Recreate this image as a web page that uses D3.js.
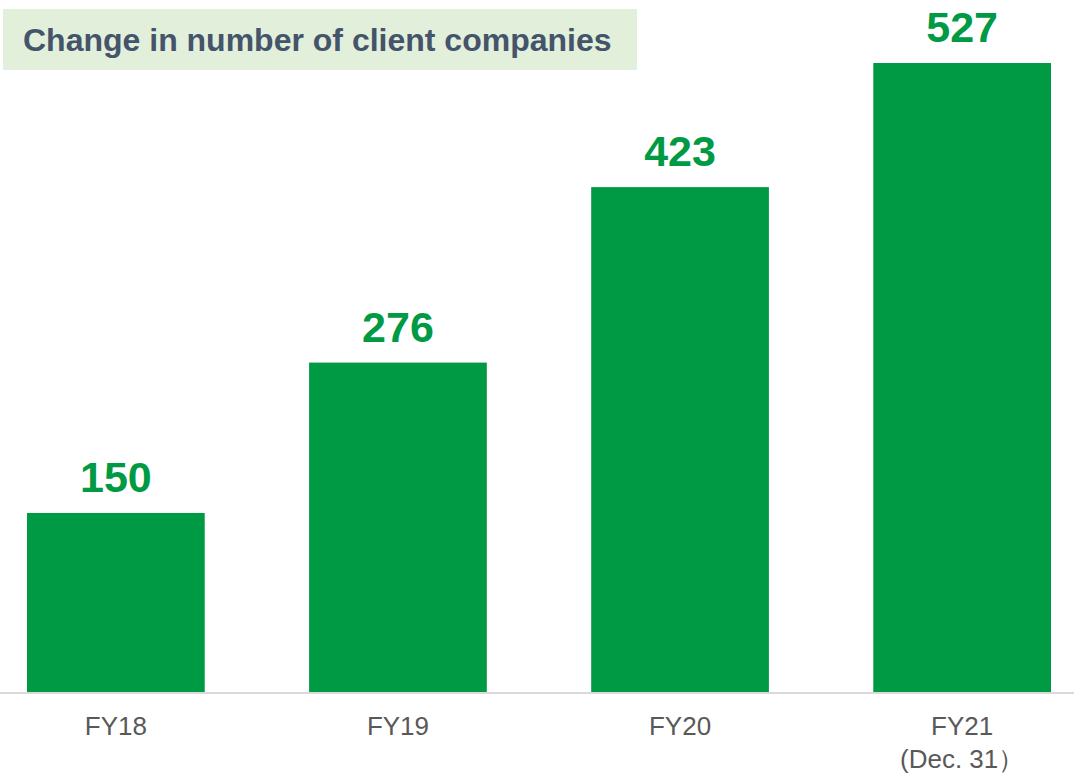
<!DOCTYPE html>
<html>
<head>
<meta charset="utf-8">
<script src="https://cdn.jsdelivr.net/npm/d3@7"></script>
<style>
  body { margin: 0; background: #fff; }
  svg { display: block; font-family: Arial, "Liberation Sans", sans-serif; }
</style>
</head>
<body>
<div id="chart"></div>
<script>
const years = ["FY18", "FY19", "FY20", "FY21"];
const subLabels = ["", "", "", "(Dec. 31\uFF09"];
const clients = [150, 276, 423, 527];
const title = "Change in number of client companies";

const width = 1074, height = 777;
const green = "#009A44";

const svg = d3.select("#chart").append("svg")
    .attr("width", width)
    .attr("height", height);

// title box
svg.append("rect")
    .attr("x", 3).attr("y", 9)
    .attr("width", 634).attr("height", 61)
    .attr("fill", "#E2EFDA");
svg.append("text")
    .attr("x", 23).attr("y", 51)
    .attr("fill", "#44546A")
    .style("font-size", "32px")
    .style("font-weight", "bold")
    .text(title);

const x = d3.scaleBand()
    .domain(years)
    .range([27, 1051])
    .paddingInner(0.37)
    .paddingOuter(0);

const y = d3.scaleLinear()
    .domain([0, 527])
    .range([692, 63]);

const data = years.map((d, i) => ({ year: d, value: clients[i], sub: subLabels[i] }));

svg.append("g")
    .selectAll("rect")
    .data(data)
    .enter().append("rect")
    .attr("x", d => x(d.year))
    .attr("y", d => y(d.value))
    .attr("width", x.bandwidth())
    .attr("height", d => y(0) - y(d.value))
    .attr("fill", green);

// value labels
svg.append("g")
    .selectAll("text")
    .data(data)
    .enter().append("text")
    .attr("x", d => x(d.year) + x.bandwidth() / 2)
    .attr("y", d => y(d.value) - 21)
    .attr("text-anchor", "middle")
    .attr("fill", green)
    .style("font-size", "43px")
    .style("font-weight", "bold")
    .text(d => d.value);

// baseline
svg.append("line")
    .attr("x1", 0).attr("x2", width)
    .attr("y1", y(0) + 1).attr("y2", y(0) + 1)
    .attr("stroke", "#D9D9D9")
    .attr("stroke-width", 2);

// category labels
const cat = svg.append("g")
    .selectAll("g")
    .data(data)
    .enter().append("g")
    .attr("transform", d => `translate(${x(d.year) + x.bandwidth() / 2},0)`);

cat.append("text")
    .attr("y", 735)
    .attr("text-anchor", "middle")
    .attr("fill", "#595959")
    .style("font-size", "26px")
    .text(d => d.year);

cat.append("text")
    .attr("y", 768)
    .attr("text-anchor", "middle")
    .attr("fill", "#595959")
    .style("font-size", "26px")
    .text(d => d.sub);
</script>
</body>
</html>
